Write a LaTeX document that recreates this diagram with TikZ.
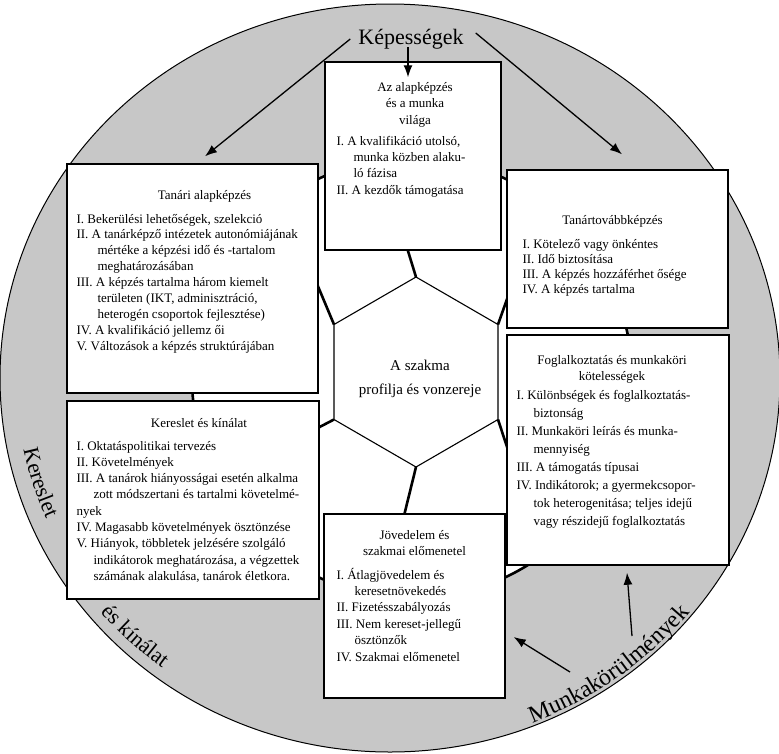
\documentclass[tikz,border=0pt]{standalone}
\usepackage{fontspec}
\setmainfont{Liberation Serif}
\usetikzlibrary{arrows.meta,calc,positioning,decorations.text}
\definecolor{ringgray}{RGB}{199,199,199}
\newcommand{\ringfont}{\fontsize{22}{26}\selectfont}
\newcommand{\bigringfont}{\fontsize{24}{28}\selectfont}

\begin{document}
\begin{tikzpicture}[
    x=1pt, y=-1pt,
    >={Latex[length=12pt,width=9pt]},
    ring/.style={fill=ringgray, draw=black, line width=1pt},
    ball/.style={fill=white, draw=black, line width=2.6pt},
    seam/.style={line width=2.6pt, black},
    hexline/.style={line width=1.1pt},
    topic/.style={draw=black, line width=1.4pt, fill=white, inner sep=0pt},
    title/.style={align=center, inner sep=0pt, font=\fontsize{13}{#1}\selectfont},
    title/.default=16,
    items/.style={align=left, inner sep=0pt, font=\fontsize{13}{#1}\selectfont},
    items/.default=16,
    arrow/.style={->, line width=1.3pt},
    ringtext/.style={decorate, decoration={text along path, text align=center, text={#1}}}
]
\useasboundingbox (0,0) rectangle (779,753);

% Outer ring and ball
\coordinate (ringc) at (390,378);
\draw[ring] (ringc) ellipse [x radius=390pt, y radius=374pt];
\draw[ball] (412,378) circle [radius=220pt];

% Central hexagon
\coordinate (hT) at (416,277);
\coordinate (hUR) at (498,324.5);
\coordinate (hLR) at (498,419.5);
\coordinate (hB) at (416,467);
\coordinate (hLL) at (334,419.5);
\coordinate (hUL) at (334,324.5);
\draw[hexline] (hT) -- (hUR) -- (hLR) -- (hB) -- (hLL) -- (hUL) -- cycle;
\node[inner sep=0pt, align=center, font=\fontsize{15}{24}\selectfont] (profil) at (420,379)
    {A szakma\\profilja és vonzereje};

% Seams from the hexagon corners
\coordinate (sT) at (404,238);
\coordinate (sUR) at (512,285);
\coordinate (sLR) at (512,462);
\coordinate (sB) at (400,532);
\coordinate (sLL) at (310,432);
\coordinate (sUL) at (312,272);
\draw[seam] (hT) -- (sT);
\draw[seam] (hUR) -- (sUR);
\draw[seam] (hLR) -- (sLR);
\draw[seam] (hB) -- (sB);
\draw[seam] (hLL) -- (sLL);
\draw[seam] (hUL) -- (sUL);

% Topic boxes
\node[topic, minimum width=176pt, minimum height=188pt] (alap) at (413,156) {};
\node[topic, minimum width=251pt, minimum height=229pt] (tanari) at (192.5,278.5) {};
\node[topic, minimum width=252pt, minimum height=198pt] (kereslet) at (193,500) {};
\node[topic, minimum width=221pt, minimum height=158pt] (tovabb) at (617.5,249) {};
\node[topic, minimum width=222pt, minimum height=230pt] (fogl) at (618,450) {};
\node[topic, minimum width=181pt, minimum height=184pt] (jov) at (414.5,606) {};

% Box texts
\node[title=16.5, below=20.5pt of alap.north, xshift=2pt] (alap-t)
    {Az alapképzés\\és a munka\\világa};
\node[items=16.4, anchor=north west] (alap-l) at ($(alap.north west)+(12,74.5)$)
    {I. A kvalifikáció utolsó,\\
     \hspace*{17pt}munka közben alaku-\\
     \hspace*{17pt}ló fázisa\\
     II. A kezdők támogatása};

\node[title, below=26.5pt of tanari.north, xshift=12pt] (tanari-t) {Tanári alapképzés};
\node[items=15.9, anchor=north west] (tanari-l) at ($(tanari.north west)+(10,50.5)$)
    {I. Bekerülési lehetőségek, szelekció\\
     II. A tanárképző intézetek autonómiájának\\
     \hspace*{21pt}mértéke a képzési idő és -tartalom\\
     \hspace*{21pt}meghatározásában\\
     III. A képzés tartalma három kiemelt\\
     \hspace*{21pt}területen (IKT, adminisztráció,\\
     \hspace*{21pt}heterogén csoportok fejlesztése)\\
     IV. A kvalifikáció jellemz ői\\
     V. Változások a képzés struktúrájában};

\node[title, below=17.5pt of kereslet.north, xshift=6pt] (kereslet-t) {Kereslet és kínálat};
\node[items=16.3, anchor=north west] (kereslet-l) at ($(kereslet.north west)+(10,40.5)$)
    {I. Oktatáspolitikai tervezés\\
     II. Követelmények\\
     III. A tanárok hiányosságai esetén alkalma\\
     \hspace*{17pt}zott módszertani és tartalmi követelmé-\\
     nyek\\
     IV. Magasabb követelmények ösztönzése\\
     V. Hiányok, többletek jelzésére szolgáló\\
     \hspace*{17pt}indikátorok meghatározása, a végzettek\\
     \hspace*{17pt}számának alakulása, tanárok életkora.};

\node[title, below=45.5pt of tovabb.north, xshift=-5pt] (tovabb-t) {Tanártovábbképzés};
\node[items=15, anchor=north west] (tovabb-l) at ($(tovabb.north west)+(16,69.5)$)
    {I. Kötelező vagy önkéntes\\
     II. Idő biztosítása\\
     III. A képzés hozzáférhet ősége\\
     IV. A képzés tartalma};

\node[title, below=20.5pt of fogl.north, xshift=-6pt] (fogl-t)
    {Foglalkoztatás és munkaköri\\kötelességek};
\node[items=18, anchor=north west] (fogl-l) at ($(fogl.north west)+(10,55.5)$)
    {I. Különbségek és foglalkoztatás-\\
     \hspace*{17pt}biztonság\\
     II. Munkaköri leírás és munka-\\
     \hspace*{17pt}mennyiség\\
     III. A támogatás típusai\\
     IV. Indikátorok; a gyermekcsopor-\\
     \hspace*{17pt}tok heterogenitása; teljes idejű\\
     \hspace*{17pt}vagy részidejű foglalkoztatás};

\node[title, below=16.5pt of jov.north] (jov-t) {Jövedelem és\\szakmai előmenetel};
\node[items=16.4, anchor=north west] (jov-l) at ($(jov.north west)+(13,54.5)$)
    {I. Átlagjövedelem és\\
     \hspace*{18pt}keresetnövekedés\\
     II. Fizetésszabályozás\\
     III. Nem kereset-jellegű\\
     \hspace*{18pt}ösztönzők\\
     IV. Szakmai előmenetel};

% Ring labels
\node[inner sep=2pt, font=\ringfont] (kepes) at (411,39) {Képességek};
\path[ringtext={|\ringfont|Kereslet}] ($(ringc)+(182.7:374 and 358)$)
    arc[start angle=182.7, end angle=142.7, x radius=374, y radius=358];
\path[ringtext={|\ringfont|és kínálat}] ($(ringc)+(153.5:379 and 363)$)
    arc[start angle=153.5, end angle=113.5, x radius=379, y radius=363];
\path[ringtext={|\bigringfont|Munkakörülmények}] ($(ringc)+(88:387 and 371)$)
    arc[start angle=88, end angle=19, x radius=387, y radius=371];

% Arrows
\draw[arrow] ([xshift=-6pt]kepes.west) -- ([xshift=12.5pt,yshift=7pt]tanari.north);
\draw[arrow] ([xshift=10pt,yshift=6pt]kepes.east) -- ([xshift=4.5pt,yshift=15pt]tovabb.north);
\draw[arrow] ([xshift=-3pt,yshift=4pt]kepes.south) -- ([xshift=-5pt,yshift=-16pt]alap.north);
\coordinate (mk1) at (570,672);
\coordinate (mk2) at (632,636);
\draw[arrow] (mk1) -- ([xshift=8pt,yshift=-31pt]jov.east);
\draw[arrow] (mk2) -- ([xshift=9pt,yshift=-7pt]fogl.south);

\end{tikzpicture}
\end{document}
